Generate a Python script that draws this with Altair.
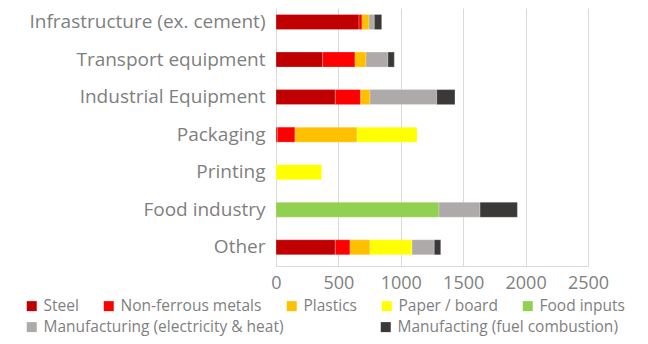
import altair as alt
import pandas as pd

categories = ["Infrastructure (ex. cement)", "Transport equipment", "Industrial Equipment",
              "Packaging", "Printing", "Food industry", "Other"]
series = ["Steel", "Non-ferrous metals", "Plastics", "Paper / board", "Food inputs",
          "Manufacturing (electricity & heat)", "Manufacting (fuel combustion)"]
colors = ["#C00000", "#FF0000", "#FFC000", "#FFFF00", "#92D050", "#AEAAAA", "#3B3838"]
x_ticks = [0, 500, 1000, 1500, 2000, 2500]

steel      = [665, 374, 475, 10, 0, 0, 475]
nonferrous = [24, 259, 204, 142, 0, 0, 118]
plastics   = [56, 88, 74, 497, 0, 0, 160]
paper      = [0, 0, 0, 481, 366, 0, 337]
food       = [0, 0, 0, 0, 0, 1306, 0]
elec       = [43, 176, 535, 0, 0, 329, 178]
fuel       = [59, 51, 146, 0, 0, 299, 52]

values = [steel, nonferrous, plastics, paper, food, elec, fuel]
rows = []
for si, (s, vals) in enumerate(zip(series, values)):
    for c, v in zip(categories, vals):
        if v > 0:
            rows.append({"category": c, "series": s, "value": v, "order": si})
df = pd.DataFrame(rows)

FONT = "Open Sans"
TXT = "#7f7f7f"

y_enc = alt.Y("category:N", sort=categories, title=None,
              scale=alt.Scale(paddingInner=0.6, paddingOuter=0.236, align=0.367),
              axis=alt.Axis(labelFontSize=19, labelColor=TXT, labelFont=FONT,
                            ticks=False, domainColor="#d9d9d9", labelPadding=11,
                            labelLimit=400))
x_enc = alt.X("x0:Q", title=None, scale=alt.Scale(domain=[0, 2500]),
              axis=alt.Axis(values=x_ticks, format="d", labelFontSize=18,
                            labelColor=TXT, labelFont=FONT, ticks=False,
                            labelFlush=False, labelOverlap=False,
                            domainColor="#d9d9d9", gridColor="#d9d9d9", labelPadding=8))

def legend(x, y, pad):
    return alt.Legend(title=None, orient="none", legendX=x, legendY=y,
                      direction="horizontal", symbolType="square", symbolSize=100,
                      symbolStrokeWidth=0, symbolOpacity=1, labelFontSize=15.5,
                      labelColor=TXT, labelFont=FONT, labelLimit=400,
                      columnPadding=pad, labelOffset=4, padding=0)

base = alt.Chart().mark_bar(stroke="white", strokeWidth=0.4, strokeOpacity=0.6)

layer1 = base.transform_filter(alt.datum.order < 5).encode(
    y=y_enc, x=x_enc, x2="x1:Q",
    color=alt.Color("series:N", scale=alt.Scale(domain=series[:5], range=colors[:5]),
                    legend=legend(-252, 290, 22)),
)
layer2 = base.transform_filter(alt.datum.order >= 5).encode(
    y=y_enc, x=x_enc, x2="x1:Q",
    color=alt.Color("series:N", scale=alt.Scale(domain=series[5:], range=colors[5:]),
                    legend=legend(-252, 311, 94)),
)

chart = alt.layer(layer1, layer2, data=df).transform_stack(
    stack="value", as_=["x0", "x1"], groupby=["category"],
    sort=[alt.SortField("order", order="ascending")],
).resolve_scale(color="independent").resolve_legend(color="independent").properties(
    width=312, height=258,
    autosize=alt.AutoSizeParams(type="none"),
    padding={"left": 268, "top": 0, "right": 52, "bottom": 70},
).configure_view(stroke=None)

chart.save("out.html", embed_options={"renderer": "svg", "actions": False})
